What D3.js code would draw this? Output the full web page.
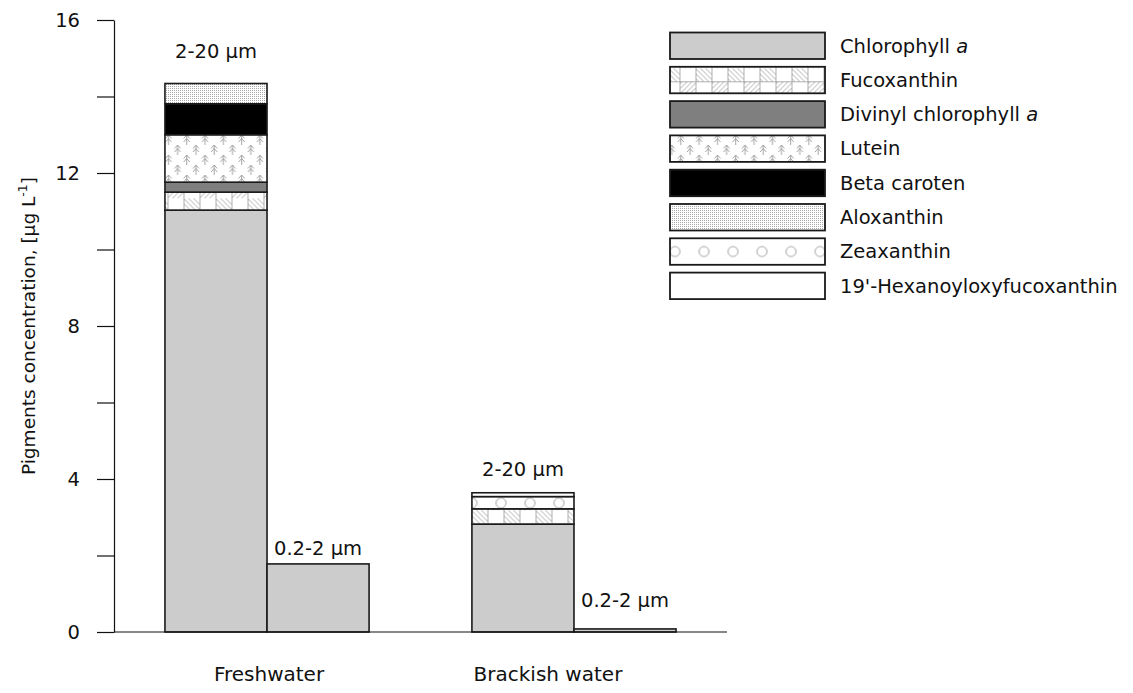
<!DOCTYPE html>
<html>
<head>
<meta charset="utf-8">
<script src="https://cdn.jsdelivr.net/npm/d3@7"></script>
<style>
  html, body { margin: 0; padding: 0; background: #fff; }
  svg { display: block; font-family: "DejaVu Sans", Verdana, sans-serif; }
</style>
</head>
<body>
<svg id="chart" width="1133" height="693"></svg>
<script>
// Water types on the x axis and size fractions within each
const waterTypes = ["Freshwater", "Brackish water"];
const sizeFractions = ["2-20 µm", "0.2-2 µm"];

// Pigments, in stacking order (bottom to top)
const pigments = [
  "Chlorophyll a", "Fucoxanthin", "Divinyl chlorophyll a", "Lutein",
  "Beta caroten", "Aloxanthin", "Zeaxanthin", "19'-Hexanoyloxyfucoxanthin"
];

// Pigment concentrations, µg L-1 (same order as pigments)
const freshwaterLarge = [11.03, 0.47, 0.26, 1.24, 0.81, 0.53, 0, 0];
const freshwaterSmall = [1.78, 0, 0, 0, 0, 0, 0, 0];
const brackishLarge   = [2.82, 0.40, 0, 0, 0, 0, 0.32, 0.10];
const brackishSmall   = [0.08, 0, 0, 0, 0, 0, 0, 0];

// Y axis ticks; only every other tick carries a label
const yTicks = [0, 2, 4, 6, 8, 10, 12, 14, 16];
const yTickLabels = ["0", "", "4", "", "8", "", "12", "", "16"];

const barValues = [
  [freshwaterLarge, freshwaterSmall],
  [brackishLarge, brackishSmall]
];

const rows = [];
waterTypes.forEach((w, i) => {
  sizeFractions.forEach((s, j) => {
    const row = { water: w, size: s };
    pigments.forEach((p, k) => { row[p] = barValues[i][j][k]; });
    rows.push(row);
  });
});

const svg = d3.select("#chart");
const defs = svg.append("defs");
const hatch = "#999999";

// ---- fill patterns (all in page coordinates) ----
// Fucoxanthin: brick grid with alternating diagonal hatching
{
  const p = defs.append("pattern").attr("id", "pat-fuco")
    .attr("patternUnits", "userSpaceOnUse").attr("width", 32).attr("height", 26)
    .attr("x", 7.5).attr("y", 16.3);
  p.append("rect").attr("width", 32).attr("height", 26).attr("fill", "#fff");
  const g = p.append("g").attr("stroke", hatch).attr("stroke-width", 0.8).attr("fill", "none");
  g.append("path").attr("d", "M0.5,0 V26 M16.5,0 V26 M0,13.5 H32");
  g.append("path").attr("d", "M16,0 L29,13 M21,0 L32,11 M26,0 L32,6 M16,5 L24,13 M16,10 L19,13");
  g.append("path").attr("d", "M0,26 L13,13 M5,26 L16,15 M10,26 L16,20 M0,21 L8,13 M0,16 L3,13");
}
// Lutein: staggered little tree glyphs
{
  const p = defs.append("pattern").attr("id", "pat-lutein")
    .attr("patternUnits", "userSpaceOnUse").attr("width", 18.3).attr("height", 20)
    .attr("x", 17.55).attr("y", 15);
  p.append("rect").attr("width", 18.3).attr("height", 20).attr("fill", "#fff");
  const tree = "M0,-5 V5 M-3,-1.5 L0,-5 L3,-1.5 M-3,2 L0,-1.5 L3,2";
  [[4.5, 5], [13.65, 15]].forEach(([x, y]) => {
    p.append("path").attr("d", tree).attr("transform", `translate(${x},${y})`)
      .attr("stroke", hatch).attr("stroke-width", 0.9).attr("fill", "none");
  });
}
// Aloxanthin: fine stipple
{
  const p = defs.append("pattern").attr("id", "pat-alox")
    .attr("patternUnits", "userSpaceOnUse").attr("width", 2).attr("height", 2);
  p.append("rect").attr("width", 2).attr("height", 2).attr("fill", "#fff");
  p.append("rect").attr("width", 1).attr("height", 1).attr("fill", "#a8a8a8");
}
// Zeaxanthin: open circles
{
  const p = defs.append("pattern").attr("id", "pat-zeax")
    .attr("patternUnits", "userSpaceOnUse").attr("width", 29).attr("height", 25.145)
    .attr("x", 22.5).attr("y", 12.67);
  p.append("rect").attr("width", 29).attr("height", 25.145).attr("fill", "#fff");
  p.append("circle").attr("cx", 14.5).attr("cy", 12.57).attr("r", 5)
    .attr("stroke", hatch).attr("stroke-width", 0.9).attr("fill", "none");
}

const fills = d3.scaleOrdinal()
  .domain(pigments)
  .range(["#cccccc", "url(#pat-fuco)", "#7f7f7f", "url(#pat-lutein)",
          "#000000", "url(#pat-alox)", "url(#pat-zeax)", "#ffffff"]);

// ---- scales ----
const y = d3.scaleLinear().domain([0, 16]).range([632, 20]);
const x0 = d3.scaleBand().domain(waterTypes).range([114, 727])
  .paddingInner(0.335).paddingOuter(0.166);
const x1 = d3.scaleBand().domain(sizeFractions).range([0, x0.bandwidth()]);

// ---- stacked bars ----
const series = d3.stack().keys(pigments)(rows);
const barLayer = svg.append("g");
series.forEach(s => {
  barLayer.append("g").selectAll("rect")
    .data(s.filter(d => d[1] - d[0] > 0))
    .join("rect")
    .attr("x", d => x0(d.data.water) + x1(d.data.size))
    .attr("width", x1.bandwidth())
    .attr("y", d => y(d[1]))
    .attr("height", d => y(d[0]) - y(d[1]))
    .attr("fill", fills(s.key))
    .attr("stroke", "#1a1a1a")
    .attr("stroke-width", 1.6);
});

// size-fraction labels above each bar
const labelGap = { "Freshwater|2-20 µm": 25, "Freshwater|0.2-2 µm": 9,
                   "Brackish water|2-20 µm": 17, "Brackish water|0.2-2 µm": 22 };
svg.append("g").selectAll("text")
  .data(rows)
  .join("text")
  .attr("x", d => x0(d.water) + x1(d.size) + x1.bandwidth() / 2)
  .attr("y", d => y(d3.sum(pigments, p => d[p])) - labelGap[d.water + "|" + d.size])
  .attr("text-anchor", "middle")
  .attr("font-size", 19.5)
  .attr("fill", "#111")
  .text(d => d.size);

// ---- axes ----
const yAxis = d3.axisLeft(y)
  .tickValues(yTicks)
  .tickFormat((d, i) => yTickLabels[i])
  .tickSize(17).tickPadding(17).tickSizeOuter(0);
const gy = svg.append("g").attr("transform", "translate(114,0)").call(yAxis);
gy.selectAll("text").attr("font-size", 19.5).attr("fill", "#111")
  .attr("font-family", "DejaVu Sans, sans-serif");
gy.selectAll("line, path").attr("stroke", "#111").attr("stroke-width", 1.2);

svg.append("line")
  .attr("x1", 114).attr("x2", 727).attr("y1", y(0)).attr("y2", y(0))
  .attr("stroke", "#111").attr("stroke-width", 1.2);

// category labels under the axis
const catShift = { "Freshwater": 2, "Brackish water": -26 };
svg.append("g").selectAll("text")
  .data(waterTypes)
  .join("text")
  .attr("x", d => x0(d) + x0.bandwidth() / 2 + catShift[d])
  .attr("y", 681)
  .attr("text-anchor", "middle")
  .attr("font-size", 20)
  .attr("fill", "#111")
  .text(d => d);

// y axis title
const title = svg.append("text")
  .attr("transform", "translate(35,326) rotate(-90)")
  .attr("text-anchor", "middle")
  .attr("font-size", 18.5)
  .attr("fill", "#111");
title.append("tspan").text("Pigments concentration, [µg L");
title.append("tspan").attr("dy", -8).attr("font-size", 12.5).text("-1");
title.append("tspan").attr("dy", 8).text("]");

// ---- legend (boxes placed in page coordinates so patterns line up) ----
const legendX = 670, legendY = 32.5, legendStep = 34.3;
const legend = svg.append("g");
legend.selectAll("rect")
  .data(pigments)
  .join("rect")
  .attr("x", legendX)
  .attr("y", (d, i) => legendY + i * legendStep)
  .attr("width", 155).attr("height", 26.5)
  .attr("fill", d => fills(d))
  .attr("stroke", "#1a1a1a").attr("stroke-width", 1.8);
legend.selectAll("text")
  .data(pigments)
  .join("text")
  .attr("x", legendX + 170)
  .attr("y", (d, i) => legendY + i * legendStep + 20)
  .attr("font-size", 19.5)
  .attr("fill", "#111")
  .each(function(d) {
    const t = d3.select(this);
    if (d.endsWith(" a")) {
      t.append("tspan").text(d.slice(0, -1));
      t.append("tspan").attr("font-style", "italic").text("a");
    } else {
      t.text(d);
    }
  });
</script>
</body>
</html>
